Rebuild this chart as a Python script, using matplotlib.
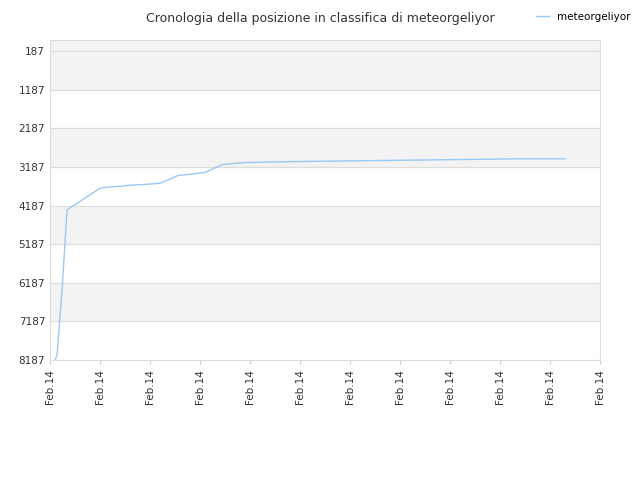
import matplotlib
matplotlib.use("Agg")
import matplotlib.pyplot as plt

# x in tick units (0..11), y = rank position
x_vals = [0.1, 0.14, 0.24, 0.34, 0.94, 1.0, 1.16, 1.4, 1.6, 1.9, 2.2, 2.56, 2.9, 3.1,
          3.44, 3.64, 3.9, 4.8, 6.36, 7.94, 9.48, 10.3]
ranks = [8187, 8060, 6400, 4300, 3790, 3740, 3710, 3690, 3660, 3640, 3610, 3410, 3360, 3330,
         3130, 3100, 3075, 3050, 3025, 3000, 2975, 2975]
y_ticks = [187, 1187, 2187, 3187, 4187, 5187, 6187, 7187, 8187]
x_labels = ["Feb.14"] * 12

fig = plt.figure(figsize=(6.4, 4.8), dpi=100)
ax = fig.add_axes([50 / 640, 120 / 480, 550 / 640, 320 / 480])
for i in range(0, 8, 2):
    ax.axhspan(y_ticks[i], y_ticks[i + 1], color="#f3f3f3", zorder=0)
ax.axhspan(-100, 187, color="#f3f3f3", zorder=0)
for t in y_ticks:
    ax.axhline(t, color="#dddddd", lw=0.8, zorder=1)
ax.plot(x_vals, ranks, color="#99c9f5", lw=1, label="meteorgeliyor", zorder=2)
ax.set_ylim(8187, -100)
ax.set_xlim(0, 11)
ax.set_yticks(y_ticks)
ax.set_xticks(range(12))
ax.set_xticklabels(x_labels, rotation=90, fontsize=7.5, color="#333333")
ax.tick_params(axis="y", labelsize=7.5, colors="#333333", length=0)
ax.tick_params(axis="x", length=3, color="#cccccc")
for s in ax.spines.values():
    s.set_color("#dddddd")
fig.text(0.5, 0.975, "Cronologia della posizione in classifica di meteorgeliyor",
         ha="center", va="top", fontsize=9, color="#333333")
fig.legend(loc="upper right", bbox_to_anchor=(1.0, 0.995), frameon=False, fontsize=7.5,
           handlelength=1.2)
fig.savefig("out.png")
